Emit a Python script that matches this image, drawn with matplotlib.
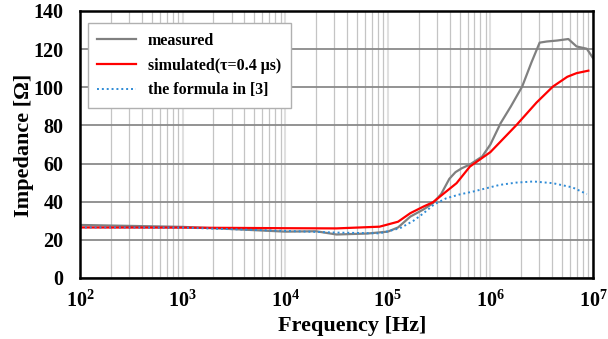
import numpy as np
import matplotlib
matplotlib.use("Agg")
import matplotlib.pyplot as plt
from matplotlib.ticker import FixedLocator, NullFormatter

plt.rcParams['font.family'] = ['Liberation Serif', 'DejaVu Serif']
plt.rcParams['font.weight'] = 'bold'
plt.rcParams['mathtext.fontset'] = 'custom'
plt.rcParams['mathtext.rm'] = 'Liberation Serif:bold'
plt.rcParams['mathtext.bf'] = 'Liberation Serif:bold'

# measured (log10 frequency, impedance)
meas_logf = [2.0, 2.5, 3.0, 3.5, 4.0, 4.3, 4.5, 4.8, 5.0, 5.1, 5.22, 5.35, 5.44, 5.52, 5.6, 5.66, 5.72, 5.8, 5.92, 6.0, 6.1, 6.2, 6.31, 6.4, 6.48, 6.55, 6.65, 6.76, 6.84, 6.94, 7.0]
meas_z = [27.8, 27.3, 26.8, 25.6, 24.3, 24.5, 22.8, 23.3, 24.3, 26.5, 32.2, 36.0, 39.2, 44.0, 52.0, 55.5, 57.5, 59.5, 63.7, 70.0, 81.2, 90.0, 100.4, 113.0, 123.4, 124.0, 124.5, 125.3, 121.4, 120.2, 115.3]

# simulated (tau = 0.4 us)
sim_logf = [2.0, 3.0, 4.0, 4.5, 4.92, 5.1, 5.22, 5.35, 5.44, 5.55, 5.67, 5.8, 6.0, 6.256, 6.45, 6.61, 6.75, 6.84, 6.955]
sim_z = [26.5, 26.4, 26.1, 26.0, 26.9, 29.5, 34.0, 37.5, 39.7, 44.5, 49.7, 58.4, 66.0, 80.3, 92.0, 100.4, 105.5, 107.4, 108.7]

# the formula in [3]
form_logf = [2.0, 3.0, 4.0, 4.5, 4.92, 5.12, 5.25, 5.35, 5.45, 5.57, 5.7, 5.83, 6.09, 6.25, 6.42, 6.61, 6.8, 6.94]
form_z = [26.5, 26.4, 24.7, 23.8, 23.4, 26.1, 30.0, 34.0, 38.5, 41.8, 43.8, 45.3, 48.8, 50.0, 50.6, 49.7, 47.5, 44.0]

fig = plt.figure(figsize=(6.08, 3.39), dpi=100)
ax = fig.add_axes([0.1316, 0.180, 0.8437, 0.7876])

ax.plot(10 ** np.array(meas_logf), meas_z, color='#808080', lw=1.6, label='measured', zorder=3)
ax.plot(10 ** np.array(sim_logf), sim_z, color='#ff0000', lw=1.6, label='simulated(τ=0.4 μs)', zorder=4)
ax.plot(10 ** np.array(form_logf), form_z, color='#2e8bd6', lw=1.4, ls=(0, (1, 1.5)), label='the formula in [3]', zorder=5)

ax.set_xscale('log')
ax.set_xlim(1e2, 1e7)
ax.set_ylim(0, 140)

ax.set_yticks(range(0, 141, 20))
ax.set_yticklabels([str(v) for v in range(0, 141, 20)])
decades = [2, 3, 4, 5, 6, 7]
ax.xaxis.set_major_locator(FixedLocator([10.0 ** d for d in decades]))
ax.set_xticklabels([r'$\mathregular{10^{%d}}$' % d for d in decades])
minors = [m * 10.0 ** d for d in range(2, 7) for m in range(2, 10)]
ax.xaxis.set_minor_locator(FixedLocator(minors))
ax.xaxis.set_minor_formatter(NullFormatter())

ax.tick_params(axis='y', which='both', length=0, labelsize=14.5, pad=12)
ax.tick_params(axis='x', which='both', length=0, labelsize=14.5, pad=9)
for lab in ax.get_yticklabels() + ax.get_xticklabels():
    lab.set_fontweight('bold')

ax.grid(True, axis='y', which='major', color='#8a8a8a', lw=1.3, zorder=1)
ax.grid(True, axis='x', which='minor', color='#c4c4c4', lw=0.9, zorder=1)
ax.grid(True, axis='x', which='major', color='#e0e0e0', lw=1.5, zorder=1)

for s in ax.spines.values():
    s.set_linewidth(1.8)
    s.set_color('black')
    s.set_zorder(6)

fig.text(24 / 608, 1 - 145 / 339, 'Impedance [Ω]', rotation=90, fontsize=16,
         fontweight='bold', ha='center', va='center')
fig.text(352 / 608, 1 - 316 / 339, 'Frequency [Hz]', fontsize=16,
         fontweight='bold', ha='center', va='top')

leg = ax.legend(loc='upper left', bbox_to_anchor=(0.006, 0.972), fontsize=11.5,
                frameon=True, fancybox=False, edgecolor='#b0b0b0', framealpha=1,
                handlelength=2.4, handletextpad=0.75, labelspacing=0.55,
                borderpad=0.6, borderaxespad=0.3)
leg.get_frame().set_linewidth(1.0)
for t in leg.get_texts():
    t.set_fontweight('bold')

fig.savefig('out.png', dpi=100)
